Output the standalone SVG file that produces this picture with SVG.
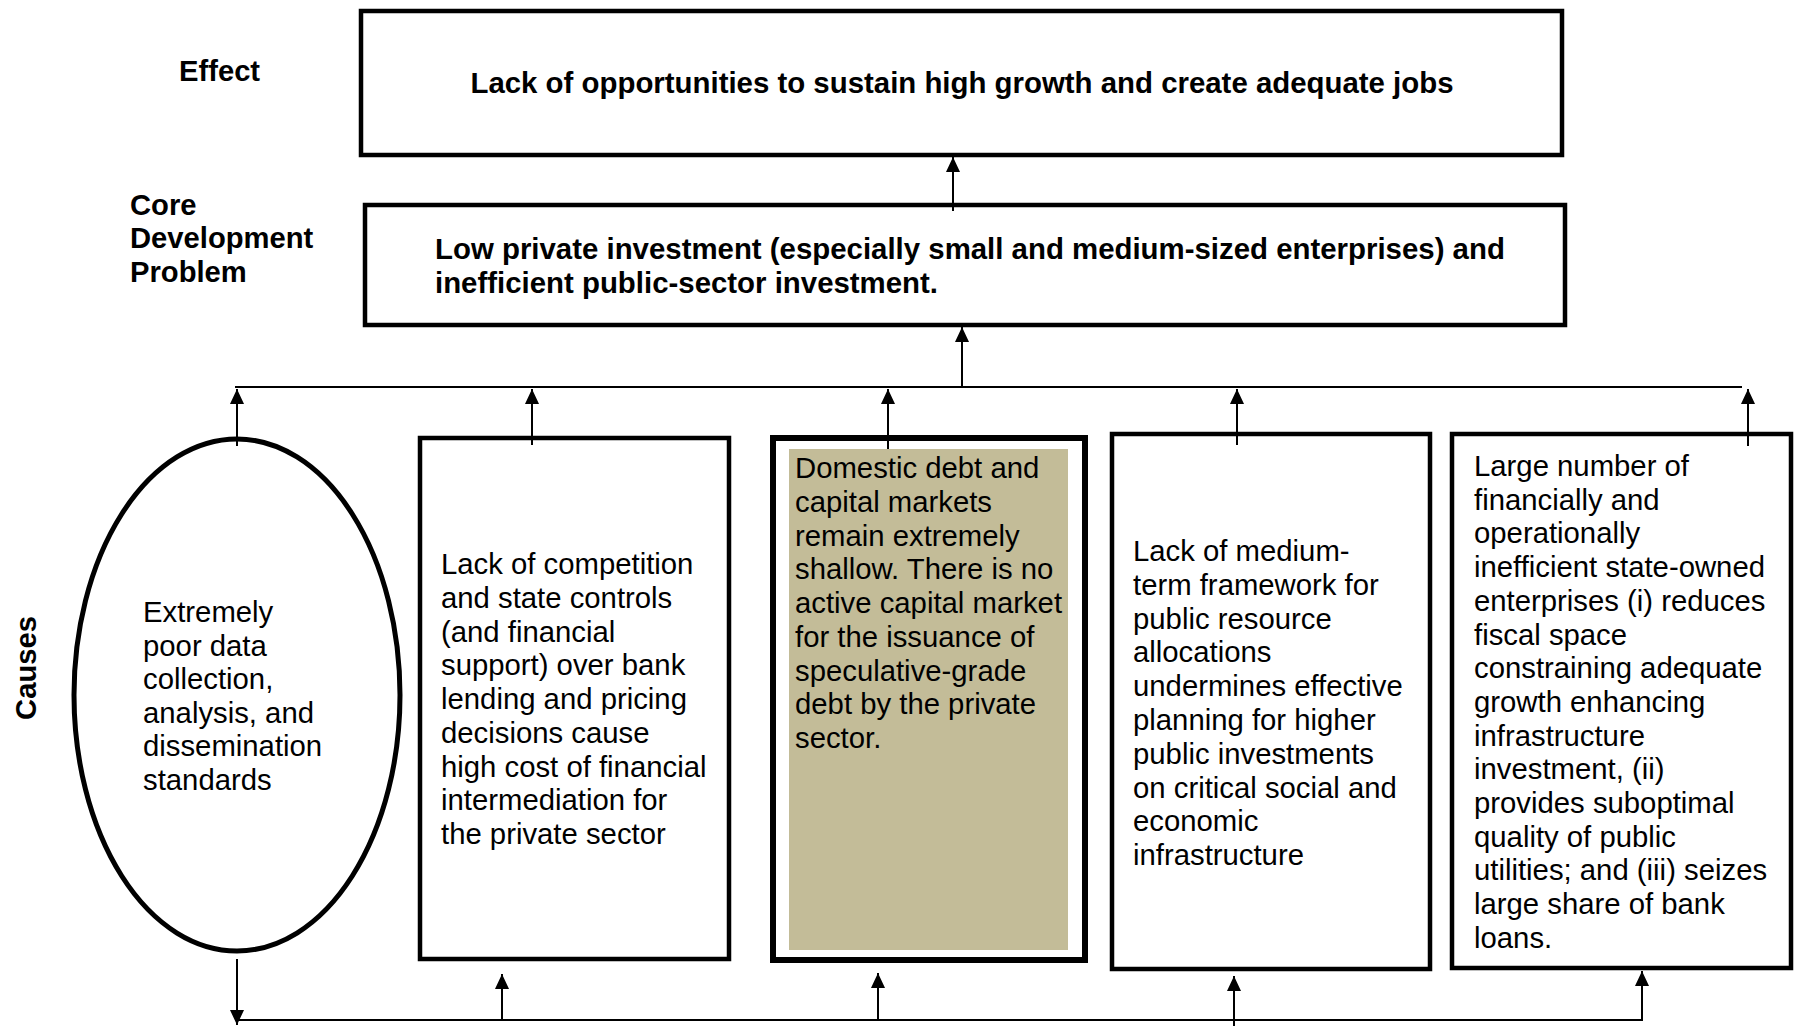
<svg xmlns="http://www.w3.org/2000/svg" width="1794" height="1026" viewBox="0 0 1794 1026">
  <style>
    .box { fill: #ffffff; stroke: #000000; stroke-width: 4.5; }
    .box-thick { fill: #ffffff; stroke: #000000; stroke-width: 6; }
    .shade { fill: #C3BC98; stroke: none; }
    .label { font-family: "Liberation Sans", Arial, sans-serif; font-size: 29.2px; font-weight: bold; fill: #000000; }
    .body { font-family: "Liberation Sans", Arial, sans-serif; font-size: 29.3px; fill: #000000; }
    .head { font-family: "Liberation Sans", Arial, sans-serif; font-size: 29.4px; font-weight: bold; fill: #000000; }
    .wire { fill: none; stroke: #000000; stroke-width: 2; }
    .arrow { fill: none; stroke: #000000; stroke-width: 2; marker-end: url(#tip); }
  </style>
  <defs>
    <marker id="tip" markerUnits="userSpaceOnUse" viewBox="0 0 15 14" refX="15" refY="7" markerWidth="15" markerHeight="14" orient="auto">
      <path d="M0,0 L15,7 L0,14 Z" fill="#000000"/>
    </marker>
  </defs>

  <rect width="1794" height="1026" fill="#ffffff"/>

  <!-- Row labels -->
  <g id="row-labels">
    <text class="label" x="179" y="81">Effect</text>
    <text class="label" x="130">
      <tspan x="130" y="215">Core</tspan>
      <tspan x="130" y="248">Development</tspan>
      <tspan x="130" y="282">Problem</tspan>
    </text>
    <text class="label" x="36" y="668" text-anchor="middle" transform="rotate(-90 36 668)">Causes</text>
  </g>

  <!-- Effect -->
  <g id="effect">
    <rect class="box" x="361" y="11" width="1201" height="144"/>
    <text class="head" x="962" y="93" text-anchor="middle">Lack of opportunities to sustain high growth and create adequate jobs</text>
  </g>

  <!-- Core development problem -->
  <g id="core-problem">
    <rect class="box" x="365" y="205" width="1200" height="120"/>
    <text class="head">
      <tspan x="435" y="259">Low private investment (especially small and medium-sized enterprises) and</tspan>
      <tspan x="435" y="293">inefficient public-sector investment.</tspan>
    </text>
  </g>

  <!-- Cause 1: data -->
  <g id="cause-data">
    <ellipse class="box" cx="237" cy="695" rx="163" ry="256" style="stroke-width:5"/>
    <text class="body">
      <tspan x="143" y="622">Extremely</tspan>
      <tspan x="143" y="655.6">poor data</tspan>
      <tspan x="143" y="689.2">collection,</tspan>
      <tspan x="143" y="722.8">analysis, and</tspan>
      <tspan x="143" y="756.4">dissemination</tspan>
      <tspan x="143" y="790">standards</tspan>
    </text>
  </g>

  <!-- Cause 2: competition -->
  <g id="cause-competition">
    <rect class="box" x="420" y="438" width="309" height="521"/>
    <text class="body">
      <tspan x="441" y="574">Lack of competition</tspan>
      <tspan x="441" y="607.75">and state controls</tspan>
      <tspan x="441" y="641.5">(and financial</tspan>
      <tspan x="441" y="675.25">support) over bank</tspan>
      <tspan x="441" y="709">lending and pricing</tspan>
      <tspan x="441" y="742.75">decisions cause</tspan>
      <tspan x="441" y="776.5">high cost of financial</tspan>
      <tspan x="441" y="810.25">intermediation for</tspan>
      <tspan x="441" y="844">the private sector</tspan>
    </text>
  </g>

  <!-- Cause 3: capital markets -->
  <g id="cause-markets">
    <rect class="box-thick" x="773" y="438" width="312" height="522"/>
    <rect class="shade" x="789" y="449" width="279" height="501"/>
    <text class="body">
      <tspan x="795" y="478">Domestic debt and</tspan>
      <tspan x="795" y="511.75">capital markets</tspan>
      <tspan x="795" y="545.5">remain extremely</tspan>
      <tspan x="795" y="579.25">shallow. There is no</tspan>
      <tspan x="795" y="613">active capital market</tspan>
      <tspan x="795" y="646.75">for the issuance of</tspan>
      <tspan x="795" y="680.5">speculative-grade</tspan>
      <tspan x="795" y="714.25">debt by the private</tspan>
      <tspan x="795" y="748">sector.</tspan>
    </text>
  </g>

  <!-- Cause 4: medium-term framework -->
  <g id="cause-framework">
    <rect class="box" x="1112" y="434" width="318" height="535"/>
    <text class="body">
      <tspan x="1133" y="561">Lack of medium-</tspan>
      <tspan x="1133" y="594.8">term framework for</tspan>
      <tspan x="1133" y="628.6">public resource</tspan>
      <tspan x="1133" y="662.4">allocations</tspan>
      <tspan x="1133" y="696.2">undermines effective</tspan>
      <tspan x="1133" y="730">planning for higher</tspan>
      <tspan x="1133" y="763.8">public investments</tspan>
      <tspan x="1133" y="797.6">on critical social and</tspan>
      <tspan x="1133" y="831.4">economic</tspan>
      <tspan x="1133" y="865.2">infrastructure</tspan>
    </text>
  </g>

  <!-- Cause 5: state-owned enterprises -->
  <g id="cause-soe">
    <rect class="box" x="1452" y="434" width="339" height="534"/>
    <text class="body">
      <tspan x="1474" y="476">Large number of</tspan>
      <tspan x="1474" y="509.7">financially and</tspan>
      <tspan x="1474" y="543.4">operationally</tspan>
      <tspan x="1474" y="577.1">inefficient state-owned</tspan>
      <tspan x="1474" y="610.8">enterprises (i) reduces</tspan>
      <tspan x="1474" y="644.5">fiscal space</tspan>
      <tspan x="1474" y="678.2">constraining adequate</tspan>
      <tspan x="1474" y="711.9">growth enhancing</tspan>
      <tspan x="1474" y="745.6">infrastructure</tspan>
      <tspan x="1474" y="779.3">investment, (ii)</tspan>
      <tspan x="1474" y="813">provides suboptimal</tspan>
      <tspan x="1474" y="846.7">quality of public</tspan>
      <tspan x="1474" y="880.4">utilities; and (iii) seizes</tspan>
      <tspan x="1474" y="914.1">large share of bank</tspan>
      <tspan x="1474" y="947.8">loans.</tspan>
    </text>
  </g>

  <!-- Connectors -->
  <g id="connectors">
    <!-- core problem to effect -->
    <line class="arrow" x1="953" y1="211" x2="953" y2="157"/>
    <!-- upper bus to core problem -->
    <line class="arrow" x1="962" y1="387" x2="962" y2="327"/>
    <line class="wire" x1="235" y1="387" x2="1742" y2="387"/>
    <!-- causes up to upper bus -->
    <line class="arrow" x1="237" y1="446" x2="237" y2="389"/>
    <line class="arrow" x1="532" y1="445" x2="532" y2="389"/>
    <line class="arrow" x1="888" y1="449" x2="888" y2="389"/>
    <line class="arrow" x1="1237" y1="445" x2="1237" y2="389"/>
    <line class="arrow" x1="1748" y1="446" x2="1748" y2="389"/>
    <!-- lower bus -->
    <line class="arrow" x1="237" y1="959" x2="237" y2="1025"/>
    <polyline class="wire" points="237,1020 1642,1020"/>
    <line class="arrow" x1="502" y1="1020" x2="502" y2="974"/>
    <line class="arrow" x1="878" y1="1020" x2="878" y2="973"/>
    <line class="arrow" x1="1234" y1="1026" x2="1234" y2="976"/>
    <line class="arrow" x1="1642" y1="1021" x2="1642" y2="971"/>
  </g>
</svg>
